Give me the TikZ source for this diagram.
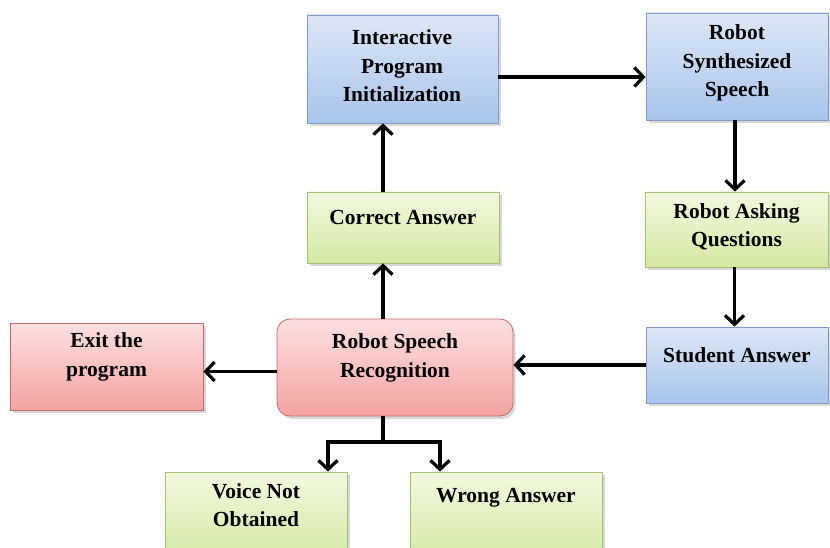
\documentclass[tikz,border=0pt]{standalone}
\usepackage{fontspec}
\setmainfont{Liberation Serif}
\usetikzlibrary{arrows.meta,shadows}
\definecolor{bluetop}{HTML}{DDE7F6}
\definecolor{bluebot}{HTML}{A9C4EC}
\definecolor{blueln}{HTML}{7E9CC6}
\definecolor{greentop}{HTML}{F3F9E0}
\definecolor{greenbot}{HTML}{D3E8A3}
\definecolor{greenln}{HTML}{A6BF70}
\definecolor{redtop}{HTML}{FDE0E0}
\definecolor{redbot}{HTML}{F4A2A2}
\definecolor{redln}{HTML}{C46C6C}
\tikzset{
  box/.style={draw, line width=0.8pt, inner sep=0pt,
    drop shadow={opacity=0.3, shadow xshift=2.5pt, shadow yshift=-3pt}},
  bluebox/.style={box, draw=blueln, top color=bluetop, bottom color=bluebot},
  greenbox/.style={box, draw=greenln, top color=greentop, bottom color=greenbot},
  redbox/.style={box, draw=redln, top color=redtop, bottom color=redbot},
  txt/.style={align=center, font=\fontsize{21.5}{28.5}\selectfont\bfseries, text=black, inner sep=0pt},
  conn/.style={line width=3.2pt, black},
  arr/.style={conn, -{Straight Barb[length=9pt, width=19pt, line width=3.2pt]}, line join=miter},
}
\begin{document}
\begin{tikzpicture}[x=1pt, y=-1pt]
\clip (0,0) rectangle (830,548);
\fill[white] (0,0) rectangle (830,548);

% boxes
\node[bluebox, minimum width=191pt, minimum height=108pt] (ipi) at (402.5,69) {};
\node[bluebox, minimum width=182pt, minimum height=107pt] (rss) at (737,66.5) {};
\node[greenbox, minimum width=192pt, minimum height=71pt] (ca) at (403,227.5) {};
\node[greenbox, minimum width=183pt, minimum height=75pt] (raq) at (736.5,229.5) {};
\node[bluebox, minimum width=182pt, minimum height=76pt] (sa) at (737,365) {};
\node[redbox, rounded corners=13pt, minimum width=236pt, minimum height=97pt] (rsr) at (395,367.5) {};
\node[redbox, minimum width=193pt, minimum height=87pt] (ex) at (106.5,366.5) {};
\node[greenbox, minimum width=182pt, minimum height=90pt] (vno) at (256,517) {};
\node[greenbox, minimum width=192pt, minimum height=90pt] (wa) at (506,517) {};

% texts
\node[txt] (ipit) at (402,66) {Interactive\\Program\\Initialization};
\node[txt] (rsst) at (737,63) {Robot\\Synthesized\\Speech};
\node[txt] (cat) at (403,217) {Correct Answer};
\node[txt] (raqt) at (736.5,227) {Robot Asking\\Questions};
\node[txt] (sat) at (737,355) {Student Answer};
\node[txt] (rsrt) at (395,358) {Robot Speech\\Recognition};
\node[txt] (ext) at (106.5,357) {Exit the\\program};
\node[txt] (vnot) at (256,505) {Voice Not\\Obtained};
\node[txt] (wat) at (506,498) {Wrong Answer};

% junction coordinates
\coordinate (j) at (383,442);
\coordinate (jl) at (328,442);
\coordinate (jr) at (440,442);

% connectors
\draw[arr] ([yshift=-8pt]ipi.east) -- ([yshift=-8pt]ipi.east -| rss.west);
\draw[arr] ([xshift=-2pt]rss.south) -- ([xshift=-2pt]rss.south |- raq.north);
\draw[arr] ([xshift=-2pt]raq.south) -- ([xshift=-2pt]raq.south |- sa.north);
\draw[arr] (sa.west) -- (sa.west -| rsr.east);
\draw[arr] ([yshift=-4pt]rsr.west) -- ([yshift=-4pt]rsr.west -| ex.east);
\draw[arr] ([xshift=-12pt]rsr.north) -- ([xshift=-12pt]rsr.north |- ca.south);
\draw[arr] ([xshift=-20pt]ca.north) -- ([xshift=-20pt]ca.north |- ipi.south);
\draw[conn] ([xshift=-12pt]rsr.south) -- (j);
\draw[arr] (j) -- (jl) -- (jl |- vno.north);
\draw[arr] (j) -- (jr) -- (jr |- wa.north);
\end{tikzpicture}
\end{document}
